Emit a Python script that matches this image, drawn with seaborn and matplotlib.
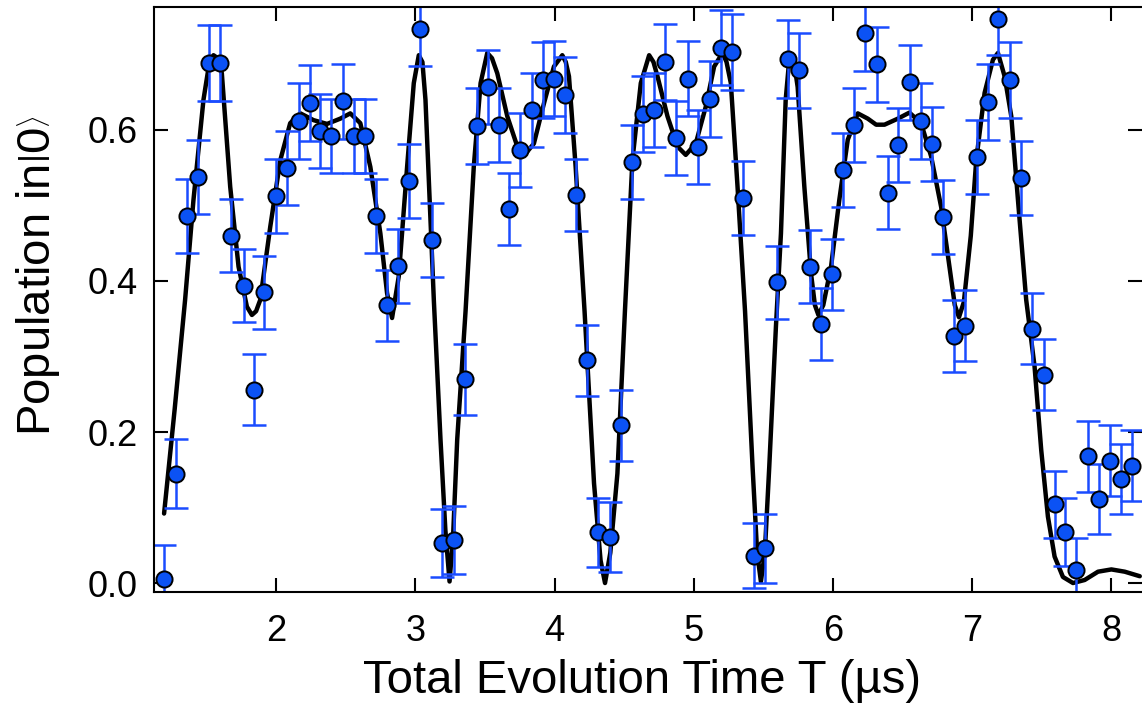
import numpy as np
import pandas as pd
import matplotlib
matplotlib.use("Agg")
import matplotlib.pyplot as plt
import seaborn as sns

t_us = [1.194, 1.278, 1.357, 1.441, 1.520, 1.597, 1.674, 1.765, 1.837, 1.914,
        1.998, 2.077, 2.160, 2.240, 2.317, 2.396, 2.477, 2.556, 2.640, 2.719,
        2.796, 2.873, 2.957, 3.036, 3.120, 3.194, 3.276, 3.355, 3.439, 3.520,
        3.600, 3.674, 3.750, 3.835, 3.916, 3.998, 4.074, 4.153, 4.235, 4.314,
        4.396, 4.475, 4.554, 4.635, 4.714, 4.794, 4.875, 4.955, 5.031, 5.115,
        5.194, 5.273, 5.353, 5.430, 5.511, 5.597, 5.674, 5.758, 5.835, 5.914,
        5.990, 6.070, 6.153, 6.233, 6.314, 6.393, 6.470, 6.552, 6.633, 6.712,
        6.791, 6.868, 6.950, 7.031, 7.113, 7.189, 7.271, 7.353, 7.432, 7.513,
        7.592, 7.669, 7.748, 7.832, 7.911, 7.993, 8.072, 8.149]
population = [0.005, 0.145, 0.486, 0.538, 0.689, 0.689, 0.460, 0.394, 0.256, 0.385,
              0.513, 0.549, 0.612, 0.636, 0.599, 0.592, 0.638, 0.592, 0.592, 0.486,
              0.368, 0.420, 0.532, 0.734, 0.454, 0.053, 0.057, 0.270, 0.605, 0.657,
              0.607, 0.495, 0.573, 0.626, 0.666, 0.668, 0.646, 0.514, 0.295, 0.067,
              0.061, 0.209, 0.557, 0.621, 0.627, 0.690, 0.589, 0.668, 0.577, 0.641,
              0.709, 0.703, 0.510, 0.036, 0.046, 0.398, 0.694, 0.679, 0.419, 0.343,
              0.409, 0.547, 0.607, 0.728, 0.687, 0.517, 0.580, 0.663, 0.612, 0.582,
              0.485, 0.327, 0.341, 0.564, 0.637, 0.747, 0.666, 0.537, 0.337, 0.276,
              0.104, 0.068, 0.017, 0.168, 0.111, 0.162, 0.138, 0.155]
pop_err = [0.045, 0.046, 0.049, 0.049, 0.050, 0.050, 0.048, 0.048, 0.047, 0.048,
           0.049, 0.049, 0.050, 0.050, 0.049, 0.049, 0.050, 0.049, 0.049, 0.049,
           0.047, 0.049, 0.049, 0.049, 0.049, 0.045, 0.045, 0.047, 0.050, 0.049,
           0.049, 0.048, 0.049, 0.049, 0.050, 0.050, 0.050, 0.048, 0.047, 0.046,
           0.046, 0.047, 0.049, 0.050, 0.049, 0.050, 0.049, 0.050, 0.049, 0.050,
           0.050, 0.050, 0.049, 0.043, 0.046, 0.048, 0.051, 0.050, 0.048, 0.048,
           0.047, 0.049, 0.049, 0.050, 0.050, 0.048, 0.049, 0.050, 0.050, 0.049,
           0.049, 0.048, 0.047, 0.049, 0.050, 0.048, 0.050, 0.049, 0.047, 0.047,
           0.045, 0.045, 0.043, 0.047, 0.046, 0.047, 0.046, 0.047]

# fit curve
fit_t = [1.194, 1.270, 1.345, 1.405, 1.477, 1.520, 1.549, 1.580, 1.609, 1.669,
         1.729, 1.789, 1.825, 1.855, 1.885, 1.957, 2.029, 2.100, 2.173, 2.268,
         2.365, 2.460, 2.532, 2.604, 2.676, 2.748, 2.796, 2.832, 2.880, 2.940,
         2.988, 3.024, 3.050, 3.072, 3.132, 3.180, 3.215, 3.245, 3.270, 3.300,
         3.360, 3.419, 3.468, 3.516, 3.550, 3.588, 3.660, 3.732, 3.784, 3.851,
         3.923, 3.995, 4.055, 4.080, 4.103, 4.151, 4.215, 4.283, 4.330, 4.362,
         4.400, 4.451, 4.505, 4.559, 4.619, 4.679, 4.710, 4.739, 4.811, 4.883,
         4.942, 5.014, 5.086, 5.146, 5.206, 5.235, 5.266, 5.314, 5.368, 5.422,
         5.455, 5.482, 5.510, 5.542, 5.590, 5.626, 5.660, 5.690, 5.720, 5.746,
         5.794, 5.842, 5.870, 5.895, 5.930, 5.986, 6.045, 6.106, 6.178, 6.250,
         6.310, 6.370, 6.466, 6.549, 6.633, 6.705, 6.777, 6.837, 6.875, 6.905,
         6.940, 6.990, 7.029, 7.089, 7.149, 7.185, 7.233, 7.281, 7.329, 7.388,
         7.448, 7.496, 7.544, 7.592, 7.652, 7.724, 7.808, 7.904, 8.000, 8.096,
         8.204]
fit_p = [0.092, 0.230, 0.375, 0.507, 0.640, 0.690, 0.699, 0.695, 0.675, 0.525,
         0.419, 0.366, 0.355, 0.360, 0.375, 0.472, 0.560, 0.609, 0.622, 0.613,
         0.608, 0.615, 0.622, 0.609, 0.551, 0.463, 0.384, 0.351, 0.406, 0.551,
         0.662, 0.699, 0.690, 0.640, 0.375, 0.190, 0.070, 0.002, 0.060, 0.190,
         0.360, 0.551, 0.662, 0.702, 0.695, 0.675, 0.618, 0.578, 0.567, 0.582,
         0.635, 0.684, 0.699, 0.690, 0.671, 0.551, 0.360, 0.132, 0.030, 0.000,
         0.040, 0.145, 0.360, 0.560, 0.662, 0.699, 0.690, 0.671, 0.618, 0.578,
         0.567, 0.582, 0.631, 0.684, 0.702, 0.690, 0.662, 0.525, 0.360, 0.154,
         0.040, 0.002, 0.040, 0.154, 0.340, 0.463, 0.640, 0.702, 0.690, 0.657,
         0.525, 0.410, 0.368, 0.355, 0.368, 0.419, 0.507, 0.587, 0.622, 0.615,
         0.607, 0.607, 0.615, 0.623, 0.609, 0.565, 0.498, 0.419, 0.368, 0.352,
         0.372, 0.460, 0.560, 0.649, 0.693, 0.702, 0.671, 0.618, 0.507, 0.375,
         0.287, 0.176, 0.088, 0.035, 0.008, 0.000, 0.004, 0.015, 0.018, 0.015,
         0.009]

x_ticks = [2, 3, 4, 5, 6, 7, 8]
y_ticks = [0.0, 0.2, 0.4, 0.6]
y_tick_labels = ["0.0", "0.2", "0.4", "0.6"]

# ---- style ----
sns.set_style("ticks")
plt.rcParams["font.family"] = ["Liberation Sans", "DejaVu Sans"]
plt.rcParams["mathtext.fontset"] = "custom"
plt.rcParams["mathtext.rm"] = "Liberation Sans"
plt.rcParams["mathtext.it"] = "Liberation Sans:italic"
plt.rcParams["text.color"] = "black"
plt.rcParams["axes.labelcolor"] = "black"

fig = plt.figure(figsize=(11.42, 7.06), dpi=100)
ax = fig.add_axes([0.1349, 0.1619, 0.8651, 0.8278])

fit_df = pd.DataFrame({"t": fit_t, "p": fit_p})
data_df = pd.DataFrame({"t": t_us, "p": population, "err": pop_err})

sns.lineplot(data=fit_df, x="t", y="p", color="black", linewidth=3.2,
             estimator=None, sort=False, ax=ax, zorder=1)
ax.errorbar(data_df["t"], data_df["p"], yerr=data_df["err"], fmt="none",
            ecolor="#1a4cff", elinewidth=1.8, capsize=8.5, capthick=1.8, zorder=2)
sns.scatterplot(data=data_df, x="t", y="p", s=135, color="#0b52f4",
                edgecolor="black", linewidth=1.4, ax=ax, zorder=3)

ax.set_xlim(1.122, 8.22)
ax.set_ylim(-0.0115, 0.7625)
ax.set_xticks(x_ticks)
ax.set_yticks(y_ticks)
ax.set_yticklabels(y_tick_labels)

ax.tick_params(direction="in", length=10, width=1.5, top=True, right=True,
               labelsize=26, colors="black")
ax.tick_params(axis="y", pad=12)
ax.tick_params(axis="x", pad=16)
for side in ["left", "bottom", "top"]:
    ax.spines[side].set_linewidth(1.5)
    ax.spines[side].set_color("black")
ax.spines["right"].set_visible(False)

ax.set_xlabel("Total Evolution Time T (µs)", fontsize=34, color="black")
ax.set_ylabel(r"Population in$\left|0\right\rangle$", fontsize=34, color="black")
ax.xaxis.set_label_coords(0.4934, -0.115)
ax.yaxis.set_label_coords(-0.093, 0.54)

fig.savefig("out.png", dpi=100)
